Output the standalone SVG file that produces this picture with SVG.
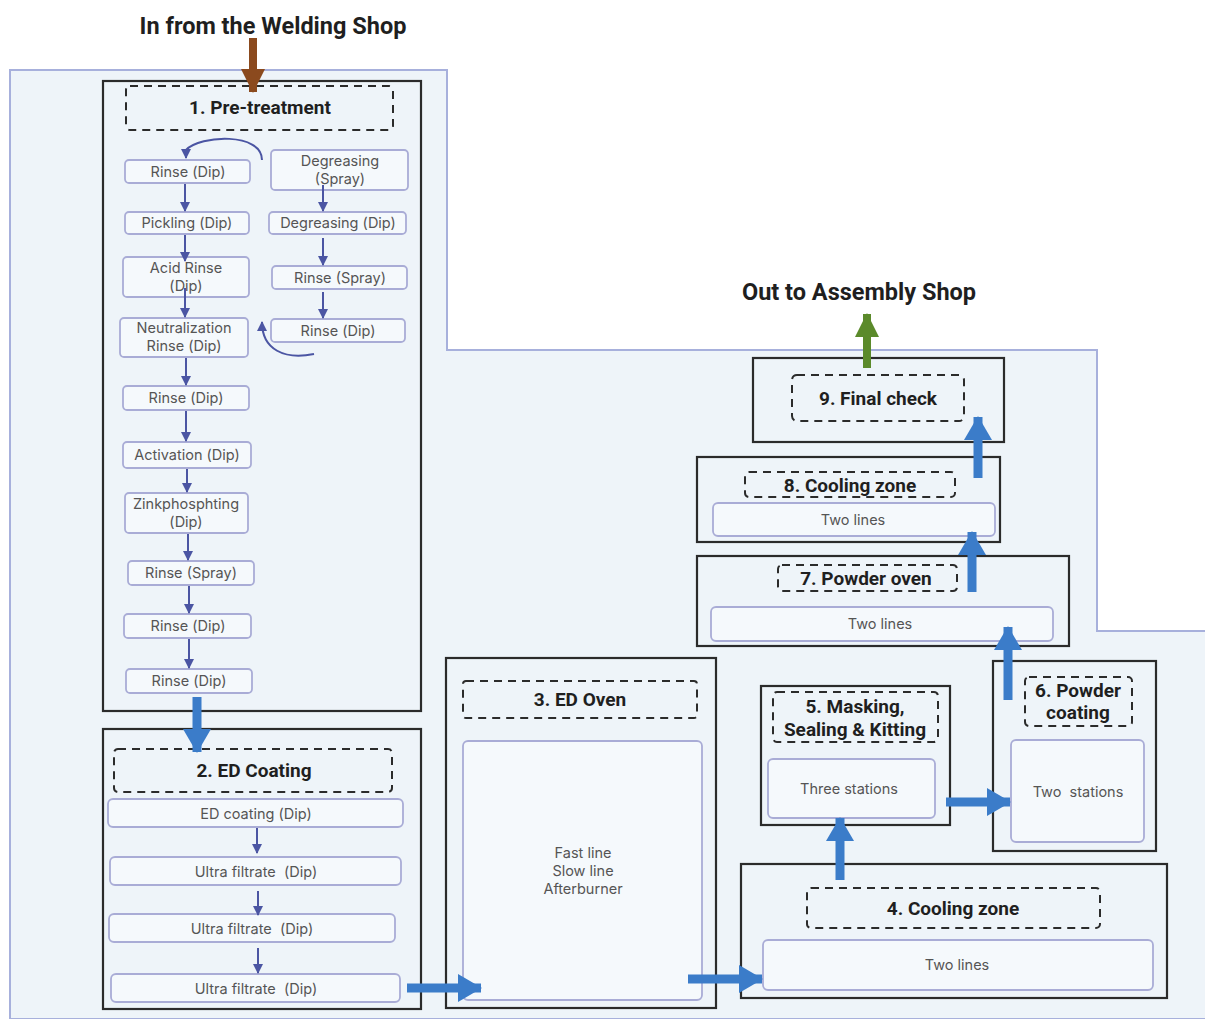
<svg xmlns="http://www.w3.org/2000/svg" width="1205" height="1019" viewBox="0 0 1205 1019">
<style>
.bg{fill:#eef4f9;stroke:#a7b0dc;stroke-width:2}
.stage{fill:none;stroke:#2b2b2b;stroke-width:2.2}
.dash{fill:none;stroke:#2b2b2b;stroke-width:2;stroke-dasharray:8 6}
.step{fill:#f5f9fc;stroke:#a9acd6;stroke-width:1.8}
.title{font-family:Roboto,"Liberation Sans",sans-serif;font-weight:bold;font-size:19px;fill:#1f1f1f;text-anchor:middle}
.big{font-family:Roboto,"Liberation Sans",sans-serif;font-weight:bold;font-size:23.5px;fill:#1f1f1f;text-anchor:middle}
.lbl{font-family:Inter,Roboto,"Liberation Sans",sans-serif;font-size:14.5px;fill:#555;text-anchor:middle;white-space:pre}
.thin{fill:none;stroke:#4b55a3;stroke-width:2}
.thick{fill:none;stroke:#3b7cc9;stroke-width:9}
</style>
<defs>
<marker id="sm" viewBox="0 0 10 10" refX="9" refY="5" markerWidth="10" markerHeight="10" markerUnits="userSpaceOnUse" orient="auto"><path d="M0,0 L10,5 L0,10 z" fill="#4b55a3"/></marker>
<marker id="bl" viewBox="0 0 24 28" refX="23" refY="14" markerWidth="24" markerHeight="28" markerUnits="userSpaceOnUse" orient="auto"><path d="M0,0 L24,14 L0,28 z" fill="#3b7cc9"/></marker>
<marker id="br" viewBox="0 0 24 24" refX="23" refY="12" markerWidth="24" markerHeight="24" markerUnits="userSpaceOnUse" orient="auto"><path d="M0,0 L24,12 L0,24 z" fill="#8b4a1e"/></marker>
<marker id="gr" viewBox="0 0 24 24" refX="23" refY="12" markerWidth="24" markerHeight="24" markerUnits="userSpaceOnUse" orient="auto"><path d="M0,0 L24,12 L0,24 z" fill="#5b8a2b"/></marker>
</defs>
<rect width="1205" height="1019" fill="#ffffff"/>
<path class="bg" d="M10,1019 L10,70 L447,70 L447,350 L1097,350 L1097,631 L1206,631 L1206,1019 Z"/>

<text class="big" x="273" y="34">In from the Welding Shop</text>
<text class="big" x="859" y="300">Out to Assembly Shop</text>

<g id="n1">
<rect class="stage" x="103" y="81" width="318" height="630"/>
<rect class="dash" x="126" y="86" width="267" height="44" rx="4"/>
<text class="title" x="260" y="114">1. Pre-treatment</text>
<rect class="step" x="125" y="160" width="125" height="23" rx="4"/><text class="lbl" x="188" y="177">Rinse (Dip)</text>
<rect class="step" x="125" y="212" width="124" height="22" rx="4"/><text class="lbl" x="187" y="228">Pickling (Dip)</text>
<rect class="step" x="123" y="257" width="126" height="40" rx="4"/><text class="lbl" x="186" y="273">Acid Rinse</text><text class="lbl" x="186" y="291">(Dip)</text>
<rect class="step" x="120" y="318" width="128" height="39" rx="4"/><text class="lbl" x="184" y="333">Neutralization</text><text class="lbl" x="184" y="351">Rinse (Dip)</text>
<rect class="step" x="123" y="386" width="126" height="24" rx="4"/><text class="lbl" x="186" y="403">Rinse (Dip)</text>
<rect class="step" x="123" y="442" width="128" height="26" rx="4"/><text class="lbl" x="187" y="460">Activation (Dip)</text>
<rect class="step" x="125" y="493" width="123" height="40" rx="4"/><text class="lbl" x="186" y="509">Zinkphosphting</text><text class="lbl" x="186" y="527">(Dip)</text>
<rect class="step" x="128" y="561" width="126" height="24" rx="4"/><text class="lbl" x="191" y="578">Rinse (Spray)</text>
<rect class="step" x="124" y="614" width="127" height="24" rx="4"/><text class="lbl" x="188" y="631">Rinse (Dip)</text>
<rect class="step" x="126" y="669" width="126" height="24" rx="4"/><text class="lbl" x="189" y="686">Rinse (Dip)</text>
<rect class="step" x="271" y="150" width="137" height="40" rx="4"/><text class="lbl" x="340" y="166">Degreasing</text><text class="lbl" x="340" y="184">(Spray)</text>
<rect class="step" x="269" y="212" width="137" height="22" rx="4"/><text class="lbl" x="338" y="228">Degreasing (Dip)</text>
<rect class="step" x="272" y="266" width="135" height="23" rx="4"/><text class="lbl" x="340" y="283">Rinse (Spray)</text>
<rect class="step" x="271" y="319" width="134" height="23" rx="4"/><text class="lbl" x="338" y="336">Rinse (Dip)</text>
</g>

<g id="n2">
<rect class="stage" x="103" y="729" width="318" height="280"/>
<rect class="dash" x="114" y="749" width="278" height="43" rx="4"/>
<text class="title" x="254" y="777">2. ED Coating</text>
<rect class="step" x="108" y="799" width="295" height="28" rx="5"/><text class="lbl" x="256" y="819">ED coating (Dip)</text>
<rect class="step" x="110" y="857" width="291" height="28" rx="5"/><text class="lbl" x="256" y="877" xml:space="preserve">Ultra filtrate  (Dip)</text>
<rect class="step" x="109" y="914" width="286" height="28" rx="5"/><text class="lbl" x="252" y="934" xml:space="preserve">Ultra filtrate  (Dip)</text>
<rect class="step" x="111" y="974" width="289" height="28" rx="5"/><text class="lbl" x="256" y="994" xml:space="preserve">Ultra filtrate  (Dip)</text>
</g>

<g id="n3">
<rect class="stage" x="446" y="658" width="270" height="350"/>
<rect class="dash" x="463" y="681" width="234" height="37" rx="3"/>
<text class="title" x="580" y="706">3. ED Oven</text>
<rect class="step" x="463" y="741" width="239" height="259" rx="5"/>
<text class="lbl" x="583" y="858">Fast line</text>
<text class="lbl" x="583" y="876">Slow line</text>
<text class="lbl" x="583" y="894">Afterburner</text>
</g>

<g id="n4">
<rect class="stage" x="741" y="864" width="426" height="134"/>
<rect class="dash" x="807" y="888" width="293" height="40" rx="4"/>
<text class="title" x="953" y="915">4. Cooling zone</text>
<rect class="step" x="763" y="940" width="390" height="50" rx="5"/>
<text class="lbl" x="957" y="970">Two lines</text>
</g>

<g id="n5">
<rect class="stage" x="761" y="686" width="189" height="139"/>
<rect class="dash" x="773" y="692" width="165" height="50" rx="4"/>
<text class="title" x="855" y="713">5. Masking,</text>
<text class="title" x="855" y="736">Sealing &amp; Kitting</text>
<rect class="step" x="768" y="759" width="167" height="59" rx="5"/>
<text class="lbl" x="849" y="794">Three stations</text>
</g>

<g id="n6">
<rect class="stage" x="993" y="661" width="163" height="190"/>
<rect class="dash" x="1025" y="677" width="107" height="49" rx="4"/>
<text class="title" x="1078" y="697">6. Powder</text>
<text class="title" x="1078" y="719">coating</text>
<rect class="step" x="1011" y="740" width="133" height="102" rx="5"/>
<text class="lbl" x="1078" y="797" xml:space="preserve">Two  stations</text>
</g>

<g id="n7">
<rect class="stage" x="697" y="556" width="372" height="90"/>
<rect class="dash" x="778" y="565" width="179" height="26" rx="4"/>
<text class="title" x="866" y="585">7. Powder oven</text>
<rect class="step" x="711" y="607" width="342" height="34" rx="5"/>
<text class="lbl" x="880" y="629">Two lines</text>
</g>

<g id="n8">
<rect class="stage" x="697" y="457" width="303" height="85"/>
<rect class="dash" x="745" y="472" width="210" height="25" rx="4"/>
<text class="title" x="850" y="492">8. Cooling zone</text>
<rect class="step" x="713" y="503" width="282" height="33" rx="5"/>
<text class="lbl" x="853" y="525">Two lines</text>
</g>

<g id="n9">
<rect class="stage" x="753" y="358" width="251" height="84"/>
<rect class="dash" x="792" y="375" width="172" height="46" rx="5"/>
<text class="title" x="878" y="405">9. Final check</text>
</g>

<g id="connectors">
<line x1="253" y1="38" x2="253" y2="92" stroke="#8b4a1e" stroke-width="8" marker-end="url(#br)"/>
<line x1="867" y1="368" x2="867" y2="314" stroke="#5b8a2b" stroke-width="8" marker-end="url(#gr)"/>
<path class="thin" d="M262,160 C262,132 200,135 186,150 L186,158" marker-end="url(#sm)"/>
<path class="thin" d="M314,354 C285,360 262,350 262,322" marker-end="url(#sm)"/>
<line class="thin" x1="185" y1="184" x2="185" y2="211" marker-end="url(#sm)"/>
<line class="thin" x1="185" y1="235" x2="185" y2="261" marker-end="url(#sm)"/>
<line class="thin" x1="185" y1="288" x2="185" y2="317" marker-end="url(#sm)"/>
<line class="thin" x1="186" y1="358" x2="186" y2="385" marker-end="url(#sm)"/>
<line class="thin" x1="186" y1="411" x2="186" y2="441" marker-end="url(#sm)"/>
<line class="thin" x1="187" y1="469" x2="187" y2="492" marker-end="url(#sm)"/>
<line class="thin" x1="188" y1="534" x2="188" y2="560" marker-end="url(#sm)"/>
<line class="thin" x1="189" y1="586" x2="189" y2="613" marker-end="url(#sm)"/>
<line class="thin" x1="189" y1="639" x2="189" y2="668" marker-end="url(#sm)"/>
<line class="thin" x1="323" y1="185" x2="323" y2="211" marker-end="url(#sm)"/>
<line class="thin" x1="323" y1="238" x2="323" y2="265" marker-end="url(#sm)"/>
<line class="thin" x1="323" y1="292" x2="323" y2="318" marker-end="url(#sm)"/>
<line class="thin" x1="257" y1="828" x2="257" y2="853" marker-end="url(#sm)"/>
<line class="thin" x1="258" y1="891" x2="258" y2="915" marker-end="url(#sm)"/>
<line class="thin" x1="258" y1="948" x2="258" y2="973" marker-end="url(#sm)"/>
<line class="thick" x1="197" y1="697" x2="197" y2="752" marker-end="url(#bl)"/>
<line class="thick" x1="407" y1="988" x2="481" y2="988" marker-end="url(#bl)"/>
<line class="thick" x1="688" y1="979" x2="762" y2="979" marker-end="url(#bl)"/>
<line class="thick" x1="840" y1="880" x2="840" y2="818" marker-end="url(#bl)"/>
<line class="thick" x1="946" y1="802" x2="1010" y2="802" marker-end="url(#bl)"/>
<line class="thick" x1="1008" y1="700" x2="1008" y2="627" marker-end="url(#bl)"/>
<line class="thick" x1="972" y1="592" x2="972" y2="532" marker-end="url(#bl)"/>
<line class="thick" x1="978" y1="478" x2="978" y2="417" marker-end="url(#bl)"/>
</g>
</svg>
